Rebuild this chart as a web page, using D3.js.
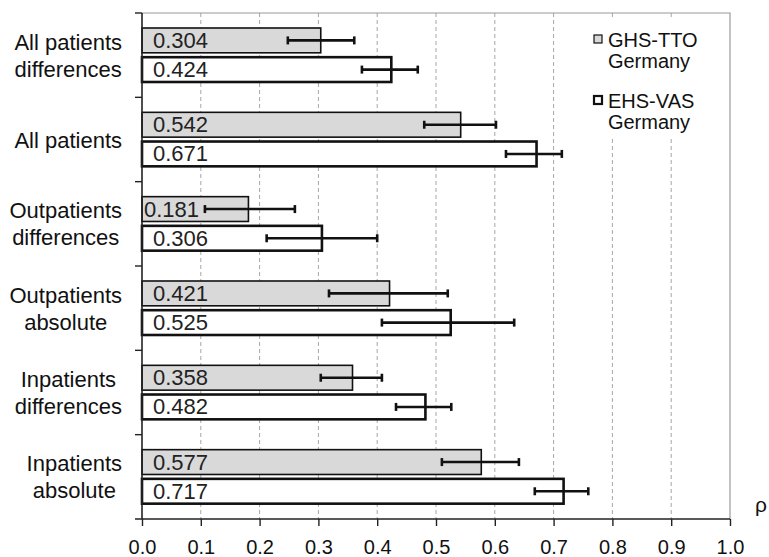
<!DOCTYPE html>
<html>
<head>
<meta charset="utf-8">
<script src="https://cdn.jsdelivr.net/npm/d3@7"></script>
<style>
  body { margin: 0; background: #fff; }
  svg { display: block; font-family: "Liberation Sans", Arial, sans-serif; }
</style>
</head>
<body>
<div id="chart"></div>
<script>
// categories top to bottom, each line of the label separated by "|"
const categories = [
  "All patients|differences",
  "All patients",
  "Outpatients|differences",
  "Outpatients|absolute",
  "Inpatients|differences",
  "Inpatients|absolute"
];
const series = ["GHS-TTO|Germany", "EHS-VAS|Germany"];

const ghsValues = [0.304, 0.542, 0.181, 0.421, 0.358, 0.577];
const ghsLow    = [0.248, 0.480, 0.107, 0.318, 0.304, 0.510];
const ghsHigh   = [0.361, 0.602, 0.260, 0.520, 0.408, 0.641];

const ehsValues = [0.424, 0.671, 0.306, 0.525, 0.482, 0.717];
const ehsLow    = [0.374, 0.619, 0.212, 0.408, 0.432, 0.668];
const ehsHigh   = [0.469, 0.714, 0.400, 0.633, 0.526, 0.759];

const xTicks = [0, 0.1, 0.2, 0.3, 0.4, 0.5, 0.6, 0.7, 0.8, 0.9, 1.0];

const width = 769, height = 557;
const margin = { top: 13, right: 39, bottom: 38, left: 142 };

const svg = d3.select("#chart").append("svg")
  .attr("width", width)
  .attr("height", height);

const x = d3.scaleLinear().domain([0, 1]).range([margin.left, width - margin.right]);
const y = d3.scaleBand().domain(categories).range([margin.top, height - margin.bottom]);
const inner = d3.scaleBand().domain(series).range([15, 69]).paddingInner(0.15);

const rows = categories.map((c, i) => ({
  cat: c,
  bars: [
    { s: series[0], v: ghsValues[i], lo: ghsLow[i], hi: ghsHigh[i] },
    { s: series[1], v: ehsValues[i], lo: ehsLow[i], hi: ehsHigh[i] }
  ]
}));

// gridlines
svg.append("g")
  .selectAll("line")
  .data(xTicks.slice(1, -1))
  .join("line")
  .attr("x1", d => x(d)).attr("x2", d => x(d))
  .attr("y1", margin.top).attr("y2", height - margin.bottom)
  .attr("stroke", "#a6a6a6")
  .attr("stroke-width", 1)
  .attr("stroke-dasharray", "4,3");

// top and right frame
svg.append("path")
  .attr("d", `M${x(0)},${margin.top}H${x(1)}V${height - margin.bottom}`)
  .attr("fill", "none")
  .attr("stroke", "#9a9a9a")
  .attr("stroke-width", 1.2);

// legend background hides gridlines
svg.append("rect")
  .attr("x", 585).attr("y", 18)
  .attr("width", 140).attr("height", 120)
  .attr("fill", "#fff");

// bars
const groups = svg.append("g")
  .selectAll("g")
  .data(rows)
  .join("g")
  .attr("transform", d => `translate(0,${y(d.cat)})`);

groups.selectAll("rect")
  .data(d => d.bars)
  .join("rect")
  .attr("x", x(0))
  .attr("y", d => inner(d.s))
  .attr("width", d => x(d.v) - x(0))
  .attr("height", inner.bandwidth())
  .attr("fill", (d, i) => i === 0 ? "#d9d9d9" : "#fff")
  .attr("stroke", "#111")
  .attr("stroke-width", (d, i) => i === 0 ? 1.6 : 2.6);

groups.selectAll("text.val")
  .data(d => d.bars)
  .join("text")
  .attr("class", "val")
  .attr("x", d => x(0) + (d.v < 0.2 ? 2 : 11))
  .attr("y", d => inner(d.s) + inner.bandwidth() / 2 + 7.5)
  .attr("font-size", 22)
  .attr("fill", "#222")
  .text(d => d.v.toFixed(3));

// error bars
const err = groups.selectAll("g.err")
  .data(d => d.bars)
  .join("g")
  .attr("class", "err")
  .attr("stroke", "#111")
  .attr("stroke-width", 2.6);

err.append("line")
  .attr("x1", d => x(d.lo)).attr("x2", d => x(d.hi))
  .attr("y1", d => inner(d.s) + inner.bandwidth() / 2)
  .attr("y2", d => inner(d.s) + inner.bandwidth() / 2);

err.selectAll("line.cap")
  .data(d => [d.lo, d.hi].map(v => ({ v, s: d.s })))
  .join("line")
  .attr("class", "cap")
  .attr("x1", d => x(d.v)).attr("x2", d => x(d.v))
  .attr("y1", d => inner(d.s) + inner.bandwidth() / 2 - 4)
  .attr("y2", d => inner(d.s) + inner.bandwidth() / 2 + 4);

// x axis
const xAxis = svg.append("g")
  .attr("transform", `translate(0,${height - margin.bottom})`)
  .call(d3.axisBottom(x).tickValues(xTicks).tickFormat(d3.format(".1f")).tickSize(7).tickSizeOuter(0));
xAxis.select(".domain").remove();
xAxis.append("line")
  .attr("x1", x(0) - 7).attr("x2", x(1))
  .attr("stroke", "#222").attr("stroke-width", 1.6);
xAxis.selectAll(".tick line").attr("stroke", "#222").attr("stroke-width", 1.4);
xAxis.selectAll(".tick text")
  .attr("font-size", 20)
  .attr("font-family", "Liberation Sans, Arial, sans-serif")
  .attr("fill", "#111")
  .attr("dy", "1.25em");

// y axis line with separators
const sep = categories.map(c => y(c)).concat([height - margin.bottom]);
svg.append("line")
  .attr("x1", x(0)).attr("x2", x(0))
  .attr("y1", margin.top).attr("y2", height - margin.bottom)
  .attr("stroke", "#222").attr("stroke-width", 1.6);
svg.append("g")
  .selectAll("line")
  .data(sep.slice(0, -1))
  .join("line")
  .attr("x1", x(0) - 7).attr("x2", x(0))
  .attr("y1", d => d).attr("y2", d => d)
  .attr("stroke", "#222").attr("stroke-width", 1.4);

// category labels, lines centred, block right-aligned
const lineH = 27;
svg.append("g")
  .selectAll("g")
  .data(categories)
  .join("g")
  .each(function (c) {
    const g = d3.select(this);
    const lines = c.split("|");
    const mid = y(c) + y.bandwidth() / 2;
    const t = g.selectAll("text")
      .data(lines)
      .join("text")
      .attr("font-size", 22)
      .attr("fill", "#111")
      .attr("text-anchor", "middle")
      .attr("y", (d, i) => mid + 8 + (i - (lines.length - 1) / 2) * lineH)
      .text(d => d);
    let maxW = 0;
    t.each(function () { maxW = Math.max(maxW, this.getComputedTextLength()); });
    t.attr("x", 122 - maxW / 2);
  });

// legend
const legend = svg.append("g")
  .selectAll("g")
  .data(series)
  .join("g")
  .attr("transform", (d, i) => `translate(594,${35 + i * 61})`);

legend.append("rect")
  .attr("width", 8).attr("height", 8)
  .attr("fill", (d, i) => i === 0 ? "#d9d9d9" : "#fff")
  .attr("stroke", "#111")
  .attr("stroke-width", (d, i) => i === 0 ? 1.2 : 2.2);

legend.append("text")
  .attr("x", 14).attr("y", 12)
  .attr("font-size", 20)
  .attr("fill", "#111")
  .text(d => d.split("|")[0]);

legend.append("text")
  .attr("x", 55).attr("y", 33)
  .attr("font-size", 20)
  .attr("fill", "#111")
  .attr("text-anchor", "middle")
  .text(d => d.split("|")[1]);

// axis title
svg.append("text")
  .attr("x", 755).attr("y", 512)
  .attr("font-size", 21)
  .attr("fill", "#111")
  .text("ρ");
</script>
</body>
</html>
